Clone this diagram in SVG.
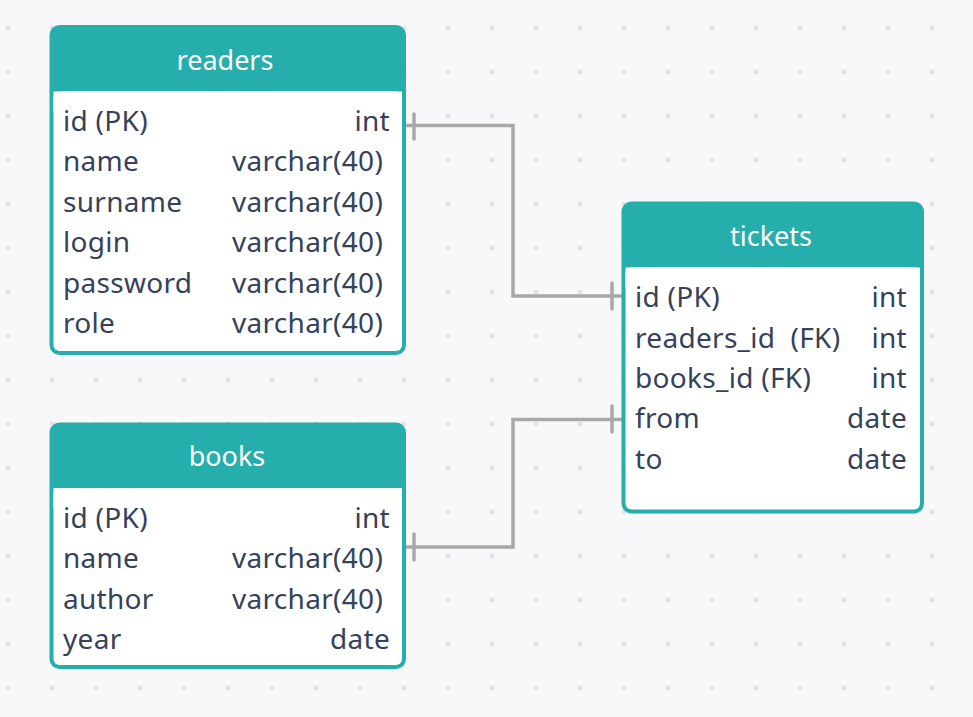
<svg xmlns="http://www.w3.org/2000/svg" width="973" height="717" viewBox="0 0 973 717">
<defs>
<pattern id="dots" x="0" y="0" width="44" height="44" patternUnits="userSpaceOnUse" patternTransform="translate(8,28)">
<circle cx="0" cy="0" r="2.6" fill="#e3e3e8"/><circle cx="44" cy="0" r="2.6" fill="#e3e3e8"/><circle cx="0" cy="44" r="2.6" fill="#e3e3e8"/><circle cx="44" cy="44" r="2.6" fill="#e3e3e8"/>
</pattern>
</defs>
<style>
.frame{fill:#25aeac}
.body{fill:#ffffff}
.title{font-family:"Noto Sans","Open Sans",sans-serif;font-size:27px;fill:#ffffff;text-anchor:middle}
.t{font-family:"Noto Sans","Open Sans",sans-serif;font-size:28px;letter-spacing:0.3px;fill:#35425a}
.r{text-anchor:end}
.conn{fill:none;stroke:#a8a8a8;stroke-width:3.5;stroke-linejoin:miter}
.tick{stroke:#a8a8a8;stroke-width:3.5;stroke-linecap:round}
</style>
<rect width="973" height="717" fill="#f8f8fb"/>
<rect width="973" height="717" fill="url(#dots)"/>
<g id="connectors">
<polyline class="conn" points="404,125.5 513,125.5 513,296 623,296"/>
<line class="tick" x1="414" y1="114" x2="414" y2="139"/>
<line class="tick" x1="612" y1="283" x2="612" y2="309"/>
<polyline class="conn" points="404,547 513,547 513,419.5 623,419.5"/>
<line class="tick" x1="414" y1="534" x2="414" y2="560"/>
<line class="tick" x1="612" y1="406" x2="612" y2="432"/>
</g>
<g id="readers">
<rect class="frame" x="49.5" y="25" width="356.5" height="330" rx="10"/>
<rect class="body" x="53.5" y="91.5" width="348.5" height="259.5" rx="6"/>
<rect class="body" x="53.5" y="91.5" width="348.5" height="20"/>
<text class="title" x="225" y="70">readers</text>
<text class="t" x="63" y="131">id (PK)</text><text class="t r" x="390" y="131">int</text>
<text class="t" x="63" y="171">name</text><text class="t" x="232" y="171">varchar(40)</text>
<text class="t" x="63" y="212">surname</text><text class="t" x="232" y="212">varchar(40)</text>
<text class="t" x="63" y="252">login</text><text class="t" x="232" y="252">varchar(40)</text>
<text class="t" x="63" y="293">password</text><text class="t" x="232" y="293">varchar(40)</text>
<text class="t" x="63" y="333">role</text><text class="t" x="232" y="333">varchar(40)</text>
</g>
<g id="books">
<rect class="frame" x="49.5" y="422.5" width="356.5" height="246.5" rx="10"/>
<rect class="body" x="53.5" y="488" width="348.5" height="177" rx="6"/>
<rect class="body" x="53.5" y="488" width="348.5" height="20"/>
<text class="title" x="227" y="466">books</text>
<text class="t" x="63" y="528">id (PK)</text><text class="t r" x="390" y="528">int</text>
<text class="t" x="63" y="568">name</text><text class="t" x="232" y="568">varchar(40)</text>
<text class="t" x="63" y="609">author</text><text class="t" x="232" y="609">varchar(40)</text>
<text class="t" x="63" y="649">year</text><text class="t r" x="390" y="649">date</text>
</g>
<g id="tickets">
<rect class="frame" x="621.5" y="201.5" width="302.5" height="312" rx="10"/>
<rect class="body" x="625.5" y="267.5" width="294.5" height="242" rx="6"/>
<rect class="body" x="625.5" y="267.5" width="294.5" height="20"/>
<text class="title" x="771" y="246">tickets</text>
<text class="t" x="635" y="307">id (PK)</text><text class="t r" x="907" y="307">int</text>
<text class="t" x="635" y="348" xml:space="preserve">readers_id  (FK)</text><text class="t r" x="907" y="348">int</text>
<text class="t" x="635" y="388">books_id (FK)</text><text class="t r" x="907" y="388">int</text>
<text class="t" x="635" y="428">from</text><text class="t r" x="907" y="428">date</text>
<text class="t" x="635" y="469">to</text><text class="t r" x="907" y="469">date</text>
</g>
</svg>
